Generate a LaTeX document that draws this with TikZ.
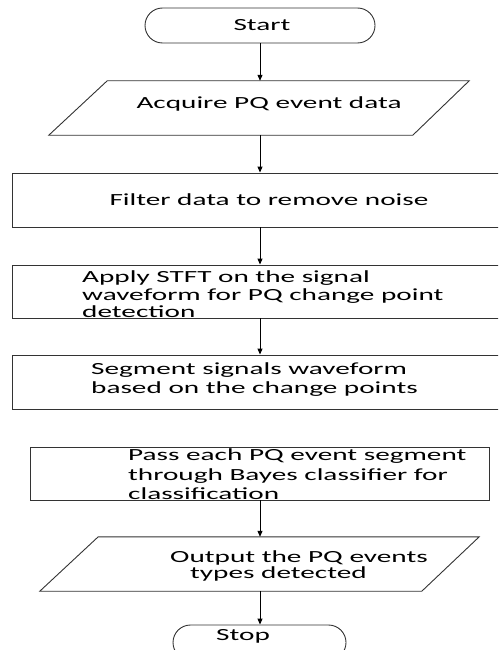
\documentclass[tikz,border=0pt]{standalone}
\usepackage{fontspec}
\setmainfont{Carlito}[FakeStretch=1.72]
\usetikzlibrary{arrows.meta}
\begin{document}
\begin{tikzpicture}[x=1pt,y=-1pt,
  shp/.style={draw=black!80, line width=0.9pt},
  box/.style={shp, rectangle, inner sep=0pt},
  term/.style={shp, rectangle, rounded corners=17.5pt, minimum height=35pt, inner sep=0pt},
  frame/.style={rectangle, draw=none, inner sep=0pt},
  txt/.style={inner sep=0pt, anchor=base west, font=\fontsize{17}{20}\selectfont},
  arr/.style={-{Triangle[length=6pt,width=5pt]}, line width=1pt, black}]
\useasboundingbox (0,0) rectangle (498,650);
\clip (0,0) rectangle (498,650);
\coordinate (axis) at (260,0);
% Start
\node[term, minimum width=230pt] (start) at (260,25.5) {};
\node[txt, anchor=base] (tstart) at (262,31) {Start};
% Parallelogram 1
\node[frame, minimum width=420pt, minimum height=54pt] (p1) at (259,108) {};
\draw[shp] (p1.south west) -- ++(364,0) -- (p1.north east) -- ++(-362,0) -- cycle;
\node[txt, anchor=base] (tp1) at (269,109) {Acquire PQ event data};
% Box 2
\node[box, minimum width=508pt, minimum height=54pt] (b2) at (266,200) {};
\node[txt, anchor=base] (tb2) at (269,205) {Filter data to remove noise};
% Box 3
\node[box, minimum width=508pt, minimum height=53pt] (b3) at (266,291.5) {};
\node[txt] (tb3a) at (82,282) {Apply STFT on the signal};
\node[txt] (tb3b) at (82,300) {waveform for PQ change point};
\node[txt] (tb3c) at (82,317) {detection};
% Box 4
\node[box, minimum width=508pt, minimum height=54pt] (b4) at (266,382) {};
\node[txt] (tb4a) at (91,374) {Segment signals waveform};
\node[txt] (tb4b) at (91,393) {based on the change points};
% Box 5
\node[box, minimum width=459pt, minimum height=53pt] (b5) at (259.5,473.5) {};
\node[txt] (tb5a) at (128,460) {Pass each PQ event segment};
\node[txt] (tb5b) at (128,480) {through Bayes classifier for};
\node[txt] (tb5c) at (128,499) {classification};
% Parallelogram 2
\node[frame, minimum width=439pt, minimum height=54pt] (p2) at (259.5,564) {};
\draw[shp] (p2.south west) -- ++(382,0) -- (p2.north east) -- ++(-381,0) -- cycle;
\node[txt] (tp2a) at (170,562) {Output the PQ events};
\node[txt] (tp2b) at (190,578) {types detected};
% Stop
\node[term, minimum width=173pt] (stop) at (259.5,642.5) {};
\node[txt, anchor=base] (tstop) at (243,640) {Stop};
% Arrows
\draw[arr] (start.south -| axis) -- (p1.north -| axis);
\draw[arr] (p1.south -| axis) -- (b2.north -| axis);
\draw[arr] (b2.south -| axis) -- (b3.north -| axis);
\draw[arr] (b3.south -| axis) -- (b4.north -| axis);
\draw[arr] (b5.south -| axis) -- (p2.north -| axis);
\draw[arr] (p2.south -| axis) -- (stop.north -| axis);
\end{tikzpicture}
\end{document}
